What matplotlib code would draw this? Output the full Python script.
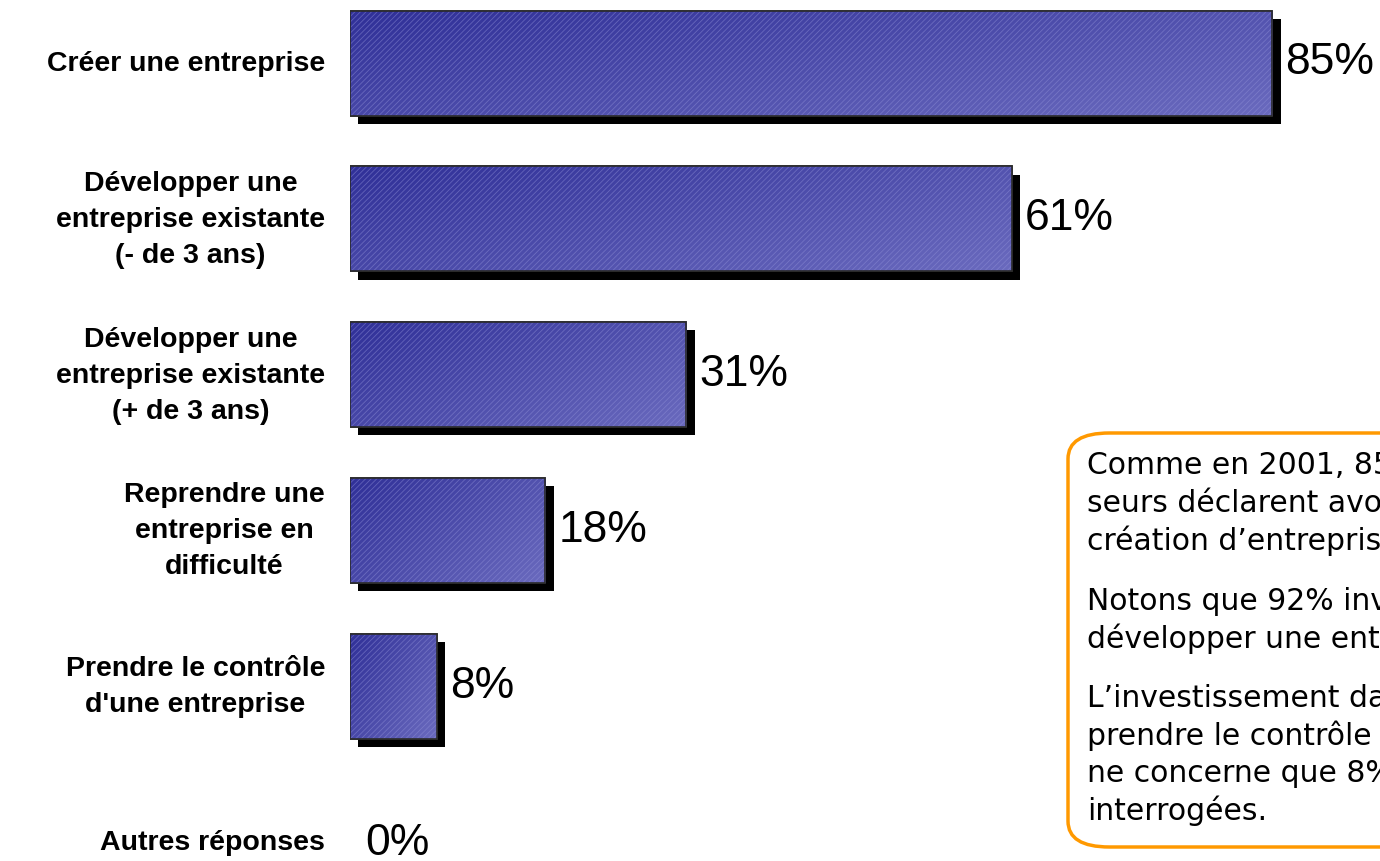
"""Objectifs d'investissement -- barres horizontales avec ombre portee + encadre commentaire."""
import numpy as np
import matplotlib; matplotlib.use("Agg")
import matplotlib.pyplot as plt
import matplotlib.patheffects as pe
from matplotlib.patches import FancyBboxPatch
from matplotlib.transforms import ScaledTranslation

categories = ["Créer une entreprise",
              "Développer une\nentreprise existante\n(- de 3 ans)",
              "Développer une\nentreprise existante\n(+ de 3 ans)",
              "Reprendre une\nentreprise en\ndifficulté",
              "Prendre le contrôle\nd'une entreprise",
              "Autres réponses"]
values = [85, 61, 31, 18, 8, 0]
value_labels = ["85%", "61%", "31%", "18%", "8%", "0%"]

note_lines = [
    ["Comme en 2001, 85% des investis-",
     "seurs déclarent avoir investi dans la",
     "création d’entreprise."],
    ["Notons que 92% investissent pour",
     "développer une entreprise existante."],
    ["L’investissement dans le but de",
     "prendre le contrôle d’une entreprise",
     "ne concerne que 8% des personnes",
     "interrogées."],
]

W, H, DPI = 1380, 862, 100
PX_PER_PCT = 10.85
X0 = 350                      # pixel of 0%
ROW_PX = 155.8
TOP_CENTER = 64
BAR_H = 105 / ROW_PX

fig = plt.figure(figsize=(W / DPI, H / DPI), dpi=DPI)
ax = fig.add_axes([X0 / W, 0, 1 - X0 / W, 1])
ax.set_xlim(0, (W - X0) / PX_PER_PCT)
ax.set_ylim(5 + (H - TOP_CENTER - 5 * ROW_PX) / ROW_PX, -TOP_CENTER / ROW_PX)
ax.axis("off")

c_dark = np.array([0x30, 0x30, 0x98]) / 255
c_light = np.array([0x6a, 0x6a, 0xbe]) / 255
plt.rcParams["hatch.linewidth"] = 0.6

for i, v in enumerate(values):
    if v > 0:
        bar = ax.barh(i, v, height=BAR_H, color=c_dark, edgecolor="#333333", linewidth=1.2,
                      zorder=2)[0]
        bar.set_path_effects([pe.SimplePatchShadow(offset=(6, -6), shadow_rgbFace="black", alpha=1),
                              pe.Normal()])
        # diagonal gradient, dark top-left -> lighter bottom-right
        gx, gy = np.meshgrid(np.linspace(0, 1, 200), np.linspace(0, 1, 60))
        t = (gx * 0.6 + gy * 0.4)[..., None]
        img = c_dark * (1 - t) + c_light * t
        y0, y1 = i - BAR_H / 2, i + BAR_H / 2
        im = ax.imshow(img, extent=(0, v, y1, y0), aspect="auto", zorder=3, interpolation="bilinear")
        im.set_clip_path(bar)
        ax.barh(i, v, height=BAR_H, color="none", edgecolor="#8f8fd6", linewidth=0,
                hatch="//////", zorder=4, alpha=0.5)
        ax.barh(i, v, height=BAR_H, color="none", edgecolor="#2a2a2a", linewidth=1.2, zorder=5)
    off = 13 if v > 0 else 15
    dy = 1 if v > 0 else -1
    ax.text(v, i, value_labels[i], fontsize=32, family="Liberation Sans", va="center", ha="left",
            transform=ax.transData + ScaledTranslation(off / DPI, dy / DPI, fig.dpi_scale_trans))
    ax.text(0, i, categories[i], fontsize=20.5, fontweight="bold", family="Liberation Sans",
            ha="right", va="center", multialignment="center", linespacing=1.5,
            transform=ax.transData + ScaledTranslation(-25 / DPI, 0, fig.dpi_scale_trans))

# commentary box (runs off the right edge, as in the original slide)
box = FancyBboxPatch((1068 / W, (H - 848) / H), 400 / W, 414 / H,
                     boxstyle="round,pad=0,rounding_size=0.03", transform=fig.transFigure,
                     facecolor="white", edgecolor="#FF9900", linewidth=2.5, zorder=10)
fig.patches.append(box)
y = 466
for para in note_lines:
    for ln in para:
        fig.text(1087 / W, (H - y) / H, ln, fontsize=21.5, family="DejaVu Sans", va="center",
                 ha="left", zorder=11)
        y += 37.5
    y += 22.5

fig.savefig("out.png", dpi=DPI)
